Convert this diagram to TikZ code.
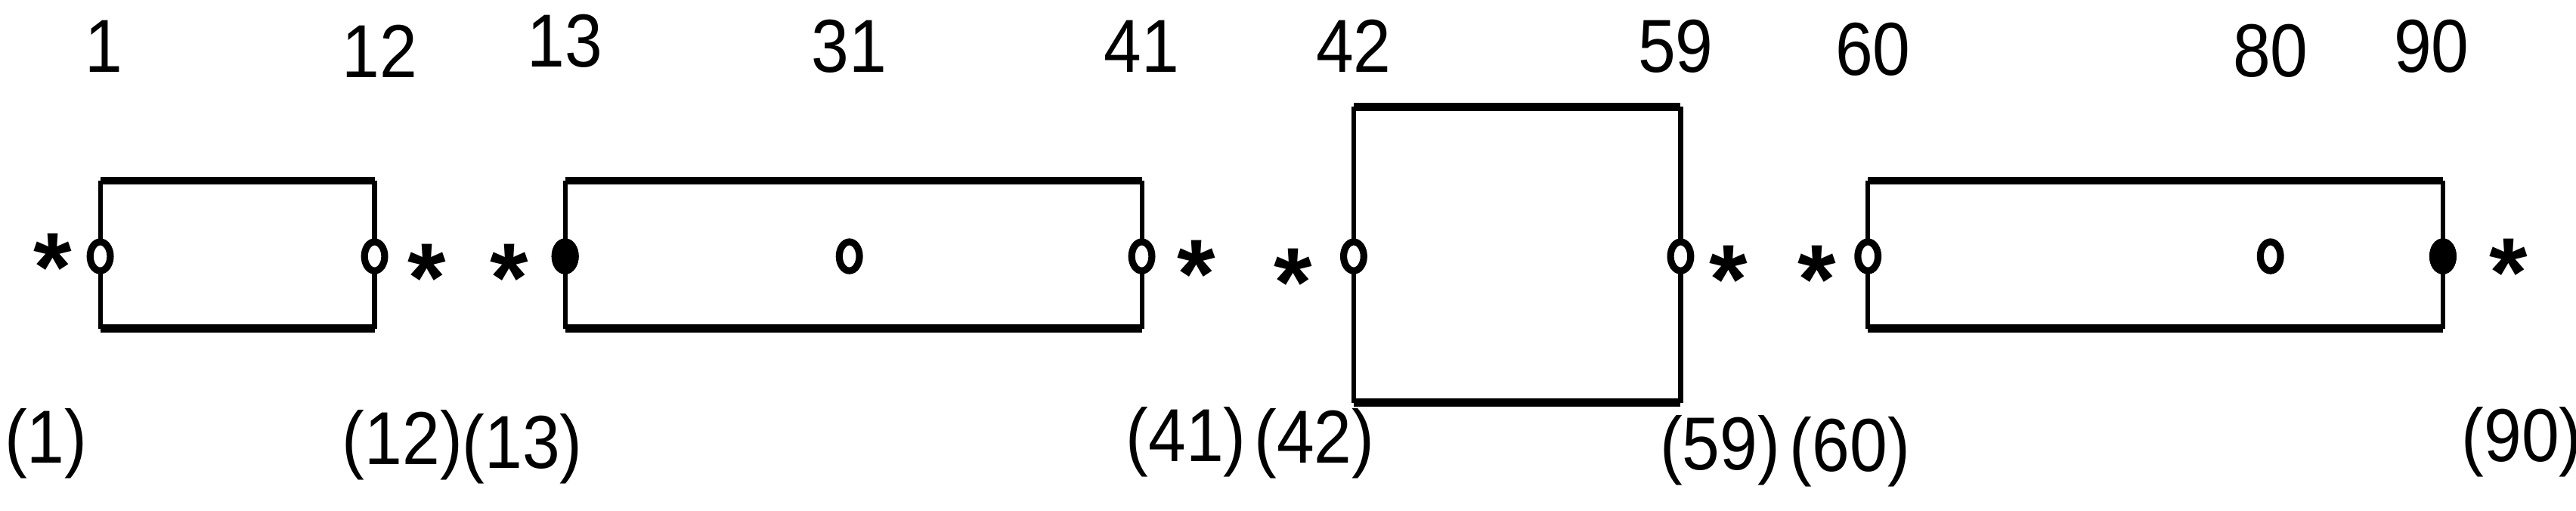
\documentclass[tikz,border=0pt]{standalone}
\usepackage{fontspec}
\setmainfont{Liberation Sans}
\tikzset{
  lbl/.style={font=\fontsize{13}{15}\selectfont, inner sep=0pt, xscale=0.9},
  star/.style={font=\bfseries\fontsize{17}{17}\selectfont, inner sep=0pt},
  side/.style={line width=0.8pt},
  edge/.style={line width=1.4pt},
  pin/.style={draw, line width=1.2pt, fill=white, minimum width=3.5pt, minimum height=5pt, inner sep=0pt, ellipse},
}
\usetikzlibrary{shapes.geometric}
\begin{document}
\begin{tikzpicture}[x=0.01cm,y=0.01cm]
  \useasboundingbox (0,0) rectangle (1568,311);
  % boxes: left, right, bottom, top
  \foreach \l/\r/\b/\t in {61/228/111/201, 344/695/111/201, 824/1023/66/246, 1137/1487/111/201}{
    \draw[side] (\l,\b) -- (\l,\t);
    \draw[side] (\r,\b) -- (\r,\t);
    \draw[edge] (\l,\b) -- (\r,\b);
    \draw[edge] (\l,\t) -- (\r,\t);
  }
  % pins
  \foreach \x/\n in {61/p1, 228/p12, 344/p13, 517/p31, 695/p41, 824/p42, 1023/p59, 1137/p60, 1382/p80, 1487/p90}
    \node[pin] (\n) at (\x,155) {};
  \node[pin, fill=black] at (p13) {};
  \node[pin, fill=black] at (p90) {};
  % top labels
  \foreach \x/\y/\s in {63/283/1, 231/280/12, 344/286/13, 517/283/31, 695/283/41, 824/283/42, 1020/283/59, 1140/281/60, 1382/280/80, 1480/283/90}
    \node[lbl] (t\s) at (\x,\y) {\s};
  % bottom labels
  \foreach \x/\y/\s in {28/41/1, 245/40/12, 318/38/13, 722/42/41, 800/41/42, 1047/37/59, 1126/36/60, 1535/42/90}
    \node[lbl] (b\s) at (\x,\y) {(\s)};
  % asterisks
  \foreach \x/\y [count=\i] in {32/148, 260/142, 310/142, 728/144, 787/139, 1052/141, 1106/141, 1527/145}
    \node[star] (s\i) at (\x,\y) {*};
\end{tikzpicture}
\end{document}
